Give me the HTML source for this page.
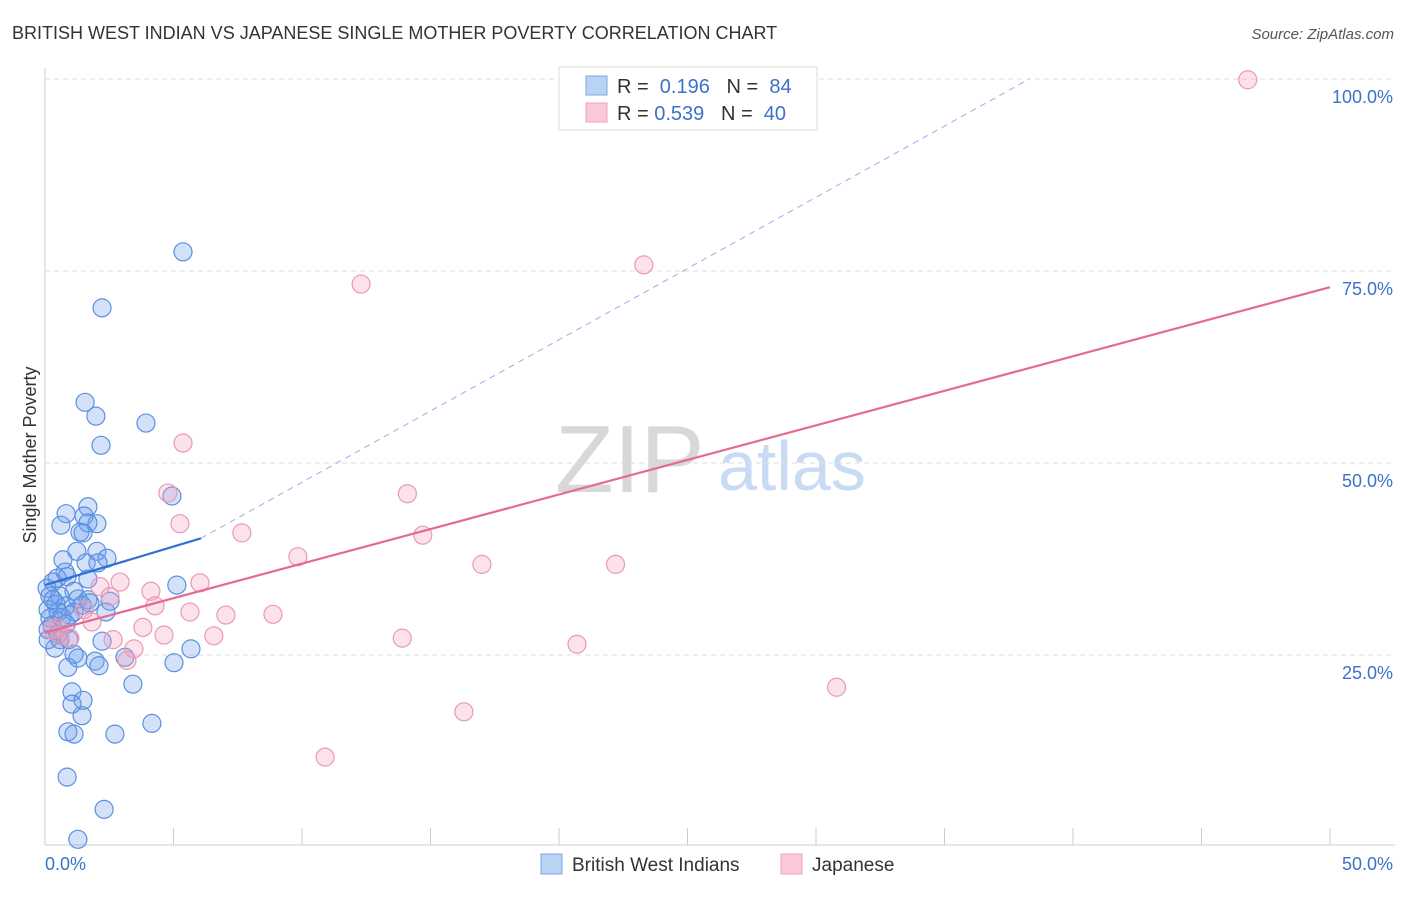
<!DOCTYPE html>
<html><head><meta charset="utf-8"><style>
body{margin:0;background:#fff;font-family:"Liberation Sans",sans-serif;}
svg text{font-family:"Liberation Sans",sans-serif;}
</style></head><body>
<svg id="chart" width="1406" height="892" viewBox="0 0 1406 892" xmlns="http://www.w3.org/2000/svg">
<text x="12" y="39" font-size="18" fill="#333">BRITISH WEST INDIAN VS JAPANESE SINGLE MOTHER POVERTY CORRELATION CHART</text>
<text x="1394" y="39" font-size="15" fill="#555" font-style="italic" text-anchor="end">Source: ZipAtlas.com</text>
<text x="555" y="492" font-size="96" fill="#d8d8d8" font-family="Liberation Serif">ZIP</text>
<text x="718" y="490" font-size="70" fill="#c9daf3">atlas</text>
<text x="36" y="455" font-size="18" fill="#333" transform="rotate(-90 36 455)" text-anchor="middle">Single Mother Poverty</text>
<g id="grid"></g><g id="axes"></g><g id="trend"></g><g id="pts"></g>
<g>
<rect x="559" y="67" width="258" height="63" fill="#fff" stroke="#ddd"/>
<rect x="586" y="76" width="21" height="19" fill="#b9d3f5" stroke="#7ba7e6"/>
<rect x="586" y="103" width="21" height="19" fill="#f9c9d8" stroke="#eea0ba"/>
<text x="617" y="93" font-size="20" fill="#333">R = <tspan fill="#3b73c9">&#160;0.196</tspan>&#160;&#160;&#160;N = <tspan fill="#3b73c9">&#160;84</tspan></text>
<text x="617" y="120" font-size="20" fill="#333">R = <tspan fill="#3b73c9">0.539</tspan>&#160;&#160;&#160;N = <tspan fill="#3b73c9">&#160;40</tspan></text>
</g>
<g>
<rect x="541" y="854" width="21" height="20" fill="#b9d3f5" stroke="#7ba7e6"/>
<text x="572" y="871" font-size="19" fill="#333">British West Indians</text>
<rect x="781" y="854" width="21" height="20" fill="#f9c9d8" stroke="#eea0ba"/>
<text x="812" y="871" font-size="19" fill="#333">Japanese</text>
</g>
</svg>
<script>
const yTicks=[25,50,75,100];
const yTickLabels=["25.0%","50.0%","75.0%","100.0%"];
const xTicks=[0,5,10,15,20,25,30,35,40,45,50];
const blueX=[5.37,2.22,1.56,1.98,3.93,2.18,4.94,1.67,0.82,1.52,0.62,2.02,1.67,1.36,1.48,1.24,2.02,0.70,2.41,1.60,2.06,0.78,0.86,0.47,0.31,1.67,5.13,0.08,1.13,0.19,0.58,1.28,1.67,2.53,0.43,0.82,1.44,0.12,0.51,1.13,2.37,0.19,0.66,0.97,0.27,0.82,0.12,0.51,0.93,2.22,0.39,1.13,1.28,1.95,3.11,5.68,5.02,0.89,2.10,3.42,1.05,1.48,1.05,1.44,4.16,0.89,1.13,2.72,0.86,2.30,1.28,0.12,0.58,0.31,1.75];
const blueY=[77.5,70.2,57.9,56.1,55.2,52.3,45.7,44.3,43.4,43.1,41.9,42.1,42.2,41.0,40.9,38.5,38.5,37.4,37.6,37.0,37.0,35.8,35.2,35.0,34.5,34.9,34.1,33.7,33.3,32.7,32.7,32.3,32.2,32.0,31.6,31.4,31.5,30.9,30.6,30.6,30.6,29.8,29.9,30.2,28.9,29.0,28.3,27.7,27.0,26.8,25.9,25.1,24.6,24.2,24.7,25.8,24.0,23.4,23.6,21.2,20.2,19.1,18.6,17.1,16.1,15.0,14.7,14.7,9.1,4.9,1.0,27.0,27.0,32.2,31.8];
const pinkX=[46.8,23.3,12.3,5.37,4.78,14.1,5.25,7.66,14.7,9.84,17.0,22.2,2.92,6.03,4.12,2.14,2.53,4.28,1.52,5.64,7.04,8.87,1.83,3.81,4.63,6.57,13.9,2.65,0.58,0.97,20.7,3.46,3.19,30.8,16.3,10.9,0.27,0.51];
const pinkY=[99.9,75.8,73.3,52.6,46.1,46.0,42.1,40.9,40.6,37.8,36.8,36.8,34.5,34.4,33.3,33.9,32.6,31.4,30.9,30.6,30.2,30.3,29.3,28.6,27.6,27.5,27.2,27.0,27.5,27.2,26.4,25.8,24.3,20.8,17.6,11.7,28.3,28.5];
const blueTrendX=[0,6.07];const blueTrendY=[34.1,40.2];
const blueDashX=[6.07,38.3];const blueDashY=[40.2,100];
const pinkTrendX=[0,50];const pinkTrendY=[27.9,72.9];
const NS="http://www.w3.org/2000/svg";
const sx=v=>45+v/50*1285, sy=v=>847-v/100*768;
function mk(p,t,a){const e=document.createElementNS(NS,t);for(const k in a)e.setAttribute(k,a[k]);document.getElementById(p).appendChild(e);return e;}
yTicks.forEach((t,i)=>{
 const l=mk('grid','line',{x1:45,x2:1395,y1:sy(t),y2:sy(t),stroke:'#ddd','stroke-dasharray':'5,4'});
 
 
 const tx=mk('grid','text',{x:1393,y:sy(t)+24,'font-size':18,fill:'#3b73c9','text-anchor':'end'});
 tx.textContent=yTickLabels[i];
 
 
});
const ax=mk('axes','line',{x1:45,x2:45,y1:68,y2:845,stroke:'#ccc'});


const bx=mk('axes','line',{x1:45,x2:1395,y1:845,y2:845,stroke:'#ccc'});


xTicks.forEach(t=>{
 const l=mk('axes','line',{x1:sx(t),x2:sx(t),y1:828,y2:845,stroke:'#ccc'});
 
 
});
const x0=mk('axes','text',{x:45,y:870,'font-size':18,fill:'#3b73c9'});x0.textContent='0.0%';


const x1=mk('axes','text',{x:1393,y:870,'font-size':18,fill:'#3b73c9','text-anchor':'end'});x1.textContent='50.0%';


blueX.forEach((v,i)=>{
 const c=mk('pts','circle',{cx:sx(v),cy:sy(blueY[i]),r:9,fill:'rgba(110,160,235,0.3)',stroke:'#5b8fe0','stroke-width':1.2});
 
 
});
pinkX.forEach((v,i)=>{
 const c=mk('pts','circle',{cx:sx(v),cy:sy(pinkY[i]),r:9,fill:'rgba(245,160,190,0.3)',stroke:'#eb98b5','stroke-width':1.2});
 
 
});
const t1=mk('trend','line',{x1:sx(blueDashX[0]),y1:sy(blueDashY[0]),x2:sx(blueDashX[1]),y2:sy(blueDashY[1]),stroke:'#8fb2e6','stroke-dasharray':'6,5','stroke-width':1});


const t2=mk('pts','line',{x1:sx(blueTrendX[0]),y1:sy(blueTrendY[0]),x2:sx(blueTrendX[1]),y2:sy(blueTrendY[1]),stroke:'#2f6fd6','stroke-width':2.2});


const t3=mk('pts','line',{x1:sx(pinkTrendX[0]),y1:sy(pinkTrendY[0]),x2:sx(pinkTrendX[1]),y2:sy(pinkTrendY[1]),stroke:'#e46a95','stroke-width':2.2});


</script>
</body></html>
